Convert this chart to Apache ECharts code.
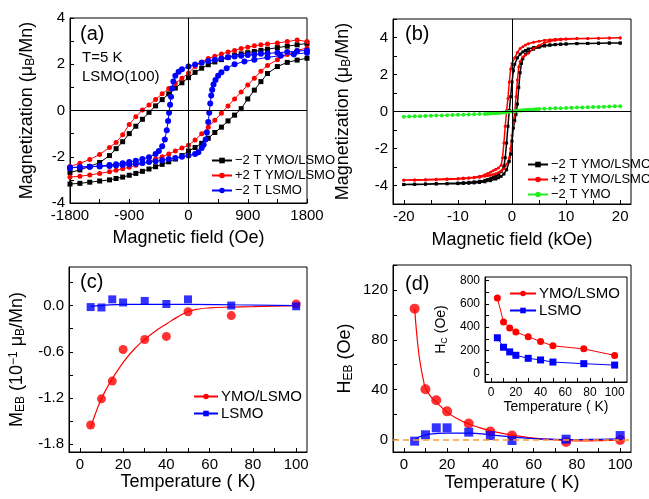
<!DOCTYPE html>
<html>
<head>
<meta charset="utf-8">
<script src="https://cdn.jsdelivr.net/npm/echarts@6/dist/echarts.min.js"></script>
<style>html,body{margin:0;padding:0;background:#fff}#main{width:649px;height:499px}</style>
</head>
<body>
<div id="main"></div>
<script>
// ---- (a) low-field loops, [H (Oe), M (muB/Mn)] ----
const aBlackDown = [[1800,2.9],[1650,2.84],[1500,2.78],[1350,2.72],[1200,2.65],[1100,2.6],[1000,2.55],[900,2.5],[800,2.45],[700,2.39],[600,2.3],[500,2.2],[400,2.1],[300,1.98],[200,1.83],[100,1.65],[0,1.42],[-100,1.2],[-200,0.97],[-300,0.72],[-400,0.47],[-500,0.2],[-600,-0.08],[-700,-0.38],[-800,-0.68],[-900,-1.0],[-1000,-1.35],[-1100,-1.65],[-1200,-1.95],[-1350,-2.25],[-1500,-2.42],[-1650,-2.57],[-1800,-2.68]]
const aBlackUp = [[-1800,-3.18],[-1650,-3.15],[-1500,-3.1],[-1350,-3.05],[-1200,-3.0],[-1100,-2.94],[-1000,-2.88],[-900,-2.8],[-800,-2.72],[-700,-2.63],[-600,-2.53],[-500,-2.43],[-400,-2.33],[-300,-2.22],[-200,-2.1],[-100,-1.95],[0,-1.75],[100,-1.6],[200,-1.42],[300,-1.2],[400,-0.95],[500,-0.72],[600,-0.45],[700,-0.2],[800,0.08],[900,0.5],[1000,0.88],[1100,1.25],[1200,1.6],[1350,1.9],[1500,2.08],[1650,2.18],[1800,2.26]]
const aRedDown = [[1800,2.98],[1650,3.05],[1500,2.98],[1350,2.92],[1200,2.88],[1100,2.84],[1000,2.8],[900,2.74],[800,2.68],[700,2.6],[600,2.53],[500,2.44],[400,2.35],[300,2.25],[200,2.1],[100,1.9],[0,1.62],[-100,1.4],[-200,1.17],[-300,0.95],[-400,0.72],[-500,0.48],[-600,0.24],[-700,0.02],[-800,-0.27],[-900,-0.6],[-1000,-1.05],[-1100,-1.38],[-1200,-1.6],[-1350,-1.9],[-1500,-2.12],[-1650,-2.28],[-1800,-2.42]]
const aRedUp = [[-1800,-2.88],[-1650,-2.84],[-1500,-2.79],[-1350,-2.72],[-1200,-2.65],[-1100,-2.58],[-1000,-2.52],[-900,-2.45],[-800,-2.37],[-700,-2.29],[-600,-2.2],[-500,-2.1],[-400,-2.0],[-300,-1.88],[-200,-1.75],[-100,-1.62],[0,-1.5],[100,-1.28],[200,-1.0],[300,-0.72],[400,-0.42],[500,-0.12],[600,0.2],[700,0.5],[800,0.8],[900,1.1],[1000,1.4],[1100,1.7],[1200,1.95],[1350,2.2],[1500,2.42],[1650,2.6],[1800,2.7]]
const aBlueDown = [[1800,2.6],[1650,2.57],[1500,2.53],[1350,2.5],[1200,2.47],[1100,2.45],[1000,2.42],[900,2.4],[800,2.37],[700,2.34],[600,2.3],[500,2.25],[400,2.2],[300,2.14],[200,2.07],[100,1.99],[0,1.9],[-100,1.78],[-150,1.68],[-200,1.5],[-230,1.25],[-250,0.95],[-265,0.6],[-280,0.25],[-295,-0.1],[-310,-0.45],[-330,-0.85],[-360,-1.25],[-400,-1.55],[-450,-1.75],[-500,-1.88],[-600,-2.02],[-700,-2.1],[-800,-2.17],[-900,-2.23],[-1000,-2.28],[-1100,-2.32],[-1200,-2.36],[-1350,-2.4],[-1500,-2.43],[-1650,-2.45],[-1800,-2.47]]
const aBlueUp = [[-1800,-2.5],[-1650,-2.45],[-1500,-2.43],[-1350,-2.42],[-1200,-2.4],[-1100,-2.38],[-1000,-2.36],[-900,-2.33],[-800,-2.3],[-700,-2.27],[-600,-2.23],[-500,-2.19],[-400,-2.15],[-300,-2.1],[-200,-2.05],[-100,-2.0],[0,-1.95],[100,-1.88],[150,-1.8],[200,-1.62],[230,-1.48],[260,-1.25],[280,-0.95],[300,-0.5],[315,-0.1],[330,0.3],[345,0.65],[360,0.9],[380,1.12],[410,1.32],[450,1.5],[500,1.65],[580,1.83],[700,2.0],[850,2.12],[1000,2.2],[1200,2.3],[1400,2.37],[1600,2.43],[1800,2.5]]

// ---- (b) high-field loops, [H (kOe), M] ----
const bBlackDown = [[20,3.7],[18,3.7],[16,3.69],[14,3.68],[12,3.67],[10,3.65],[9,3.64],[8,3.62],[7,3.6],[6,3.57],[5,3.52],[4,3.46],[3,3.38],[2.5,3.3],[2,3.22],[1.5,3.1],[1,2.9],[0.5,2.55],[0.25,2.2],[0,1.6],[-0.25,0.8],[-0.5,0.05],[-0.75,-0.8],[-1,-1.7],[-1.25,-2.5],[-1.5,-2.95],[-2,-3.25],[-2.5,-3.4],[-3,-3.5],[-3.5,-3.57],[-4,-3.63],[-4.5,-3.68],[-5,-3.72],[-6,-3.77],[-7,-3.8],[-8,-3.83],[-9,-3.85],[-10,-3.87],[-12,-3.89],[-14,-3.9],[-16,-3.92],[-18,-3.93],[-20,-3.94]]
const bBlackUp = [[-20,-3.95],[-18,-3.94],[-16,-3.93],[-14,-3.92],[-12,-3.91],[-10,-3.9],[-9,-3.89],[-8,-3.88],[-7,-3.86],[-6,-3.84],[-5,-3.8],[-4,-3.74],[-3,-3.65],[-2.5,-3.58],[-2,-3.5],[-1.5,-3.38],[-1,-3.15],[-0.5,-2.7],[-0.25,-2.3],[0,-1.6],[0.25,-0.9],[0.5,-0.5],[0.75,-0.15],[1,0.4],[1.25,1.3],[1.5,2.1],[1.75,2.6],[2,2.85],[2.5,3.1],[3,3.22],[4,3.37],[5,3.47],[6,3.54],[7,3.58],[8,3.61],[9,3.63],[10,3.65],[12,3.67],[14,3.68],[16,3.69],[18,3.7],[20,3.7]]
const bRedDown = [[20,3.97],[18,3.97],[16,3.96],[14,3.95],[12,3.94],[10,3.93],[9,3.92],[8,3.9],[7,3.88],[6,3.85],[5,3.8],[4,3.74],[3,3.66],[2.5,3.6],[2,3.5],[1.5,3.4],[1,3.2],[0.5,2.9],[0,2.6],[-0.25,2.3],[-0.5,1.6],[-0.75,0.7],[-1,0.05],[-1.25,-0.8],[-1.5,-1.7],[-1.75,-2.5],[-2,-2.9],[-2.5,-3.05],[-3,-3.12],[-3.5,-3.2],[-4,-3.28],[-4.5,-3.35],[-5,-3.42],[-6,-3.5],[-7,-3.55],[-8,-3.58],[-9,-3.6],[-10,-3.62],[-12,-3.64],[-14,-3.66],[-16,-3.68],[-18,-3.69],[-20,-3.7]]
const bRedUp = [[-20,-3.72],[-18,-3.71],[-16,-3.7],[-14,-3.69],[-12,-3.67],[-10,-3.65],[-9,-3.63],[-8,-3.61],[-7,-3.58],[-6,-3.55],[-5,-3.5],[-4.5,-3.47],[-4,-3.44],[-3.5,-3.4],[-3,-3.36],[-2.5,-3.3],[-2,-3.22],[-1.5,-3.1],[-1,-2.85],[-0.5,-2.5],[-0.25,-2.0],[0,-1.3],[0.25,-0.6],[0.5,-0.05],[0.75,0.8],[1,1.7],[1.25,2.4],[1.5,2.7],[2,2.95],[2.5,3.05],[3,3.15],[4,3.4],[5,3.57],[6,3.72],[7,3.8],[8,3.85],[9,3.88],[10,3.9],[12,3.93],[14,3.95],[16,3.96],[18,3.97],[20,3.98]]
const bGreen = [[-20,-0.28],[-19,-0.27],[-18,-0.26],[-17,-0.25],[-16,-0.24],[-15,-0.23],[-14,-0.22],[-13,-0.21],[-12,-0.2],[-11,-0.19],[-10,-0.18],[-9,-0.17],[-8,-0.16],[-7,-0.15],[-6,-0.14],[-5,-0.13],[-4.5,-0.12],[-4,-0.11],[-3.5,-0.1],[-3,-0.09],[-2.5,-0.08],[-2,-0.07],[-1.5,-0.06],[-1,-0.04],[-0.5,-0.02],[0,0],[0.5,0.02],[1,0.04],[1.5,0.06],[2,0.07],[2.5,0.08],[3,0.09],[3.5,0.1],[4,0.11],[4.5,0.12],[5,0.13],[6,0.15],[7,0.16],[8,0.17],[9,0.18],[10,0.19],[11,0.2],[12,0.21],[13,0.22],[14,0.23],[15,0.24],[16,0.25],[17,0.26],[18,0.27],[19,0.28],[20,0.29]]

// ---- (c) M_EB vs T ----
const cTemp = [5, 10, 15, 20, 30, 40, 50, 70, 100]
const cYmo = [-1.55, -1.21, -0.98, -0.57, -0.44, -0.40, -0.08, -0.13, 0.02]
const cLsmo = [-0.02, -0.025, 0.08, 0.04, 0.06, 0.02, 0.08, 0.0, -0.01]
const cFitTemp = [5, 7.5, 10, 12.5, 15, 20, 25, 30, 35, 40, 45, 50, 55, 60, 70, 80, 100]
const cYmoFit = [-1.58, -1.38, -1.21, -1.07, -0.95, -0.74, -0.57, -0.44, -0.33, -0.24, -0.15, -0.08, -0.045, -0.03, -0.02, -0.015, 0.0]
const cLsmoFitTemp = [5, 10, 20, 50, 70, 100]
const cLsmoFit = [-0.01, 0.0, 0.015, 0.015, 0.01, 0.0]

// ---- (d) H_EB vs T ----
const dTemp = [5, 10, 15, 20, 30, 40, 50, 75, 100]
const dYmo = [105, 40.3, 31.5, 22.6, 12.9, 6.5, 3.2, -1.9, -0.3]
const dLsmo = [-1.3, 3.8, 9.4, 9.4, 5.9, 3.2, -0.8, 0.3, 3.2]
const dYmoFitTemp = [5, 6, 7, 8, 9, 10, 12, 15, 20, 25, 30, 35, 40, 50, 60, 70, 80, 90, 100]
const dYmoFit = [105, 84, 68, 57, 48, 41.5, 35.5, 30, 22, 16.5, 12.5, 9.5, 7, 3.5, 1.2, -0.3, -1.0, -0.8, -0.2]
const dLsmoFitTemp = [5, 7, 10, 15, 20, 30, 40, 50, 60, 70, 80, 90, 100]
const dLsmoFit = [-0.5, 2, 3.8, 4.8, 5.2, 5.2, 3.8, 2, 0.8, 0.2, 0, 0.2, 0.6]

// ---- inset H_C vs T ----
const hTemp = [5, 10, 15, 20, 30, 40, 50, 75, 100]
const hYmo = [650, 445, 393, 358, 318, 277, 240, 214, 158]
const hLsmo = [309, 228, 188, 159, 133, 119, 101, 87, 75]

// ---- ticks / labels ----
const aXTicks = [-1800, -1350, -900, -450, 0, 450, 900, 1350, 1800]
const aXLabels = [-1800, -900, 0, 900, 1800]
const aYTicks = [-4, -3, -2, -1, 0, 1, 2, 3, 4]
const aYLabels = [-4, -2, 0, 2, 4]
const bXTicks = [-20, -15, -10, -5, 0, 5, 10, 15, 20]
const bXLabels = [-20, -10, 0, 10, 20]
const bYTicks = [-5, -4, -3, -2, -1, 0, 1, 2, 3, 4, 5]
const bYLabels = [-4, -2, 0, 2, 4]
const tTicks = [0, 10, 20, 30, 40, 50, 60, 70, 80, 90, 100]
const tLabels = [0, 20, 40, 60, 80, 100]
const cYTicks = [-1.8, -1.5, -1.2, -0.9, -0.6, -0.3, 0, 0.3]
const cYLabels = [-1.8, -1.2, -0.6, 0]
const dYTicks = [0, 20, 40, 60, 80, 100, 120, 140]
const dYLabels = [0, 40, 80, 120]
const hYTicks = [0, 100, 200, 300, 400, 500, 600, 700, 800]
const hYLabels = [0, 200, 400, 600, 800]

const legendText = {
  a1: '\u22122 T YMO/LSMO', a2: '+2 T YMO/LSMO', a3: '\u22122 T LSMO',
  b1: '\u22122 T YMO/LSMO', b2: '+2 T YMO/LSMO', b3: '\u22122 T YMO',
  c1: 'YMO/LSMO', c2: 'LSMO', e1: 'YMO/LSMO', e2: 'LSMO'
}

const FONT = 'Liberation Sans, Arial, sans-serif'
const RED = '#ff0000', BLUE = '#0000ff', BLACK = '#000000', GREEN = '#22ee22'

function zip(xs, ys) { return xs.map((x, i) => [x, ys[i]]) }

function axis(grid, min, max, ticks, labels, name, gap, fs, lfs, fmt) {
  return {
    type: 'value', gridIndex: grid, min: min, max: max,
    name: name, nameLocation: 'middle', nameGap: gap,
    nameTextStyle: {
      fontFamily: FONT, fontSize: fs, color: '#000',
      rich: {
        s: { fontFamily: FONT, fontSize: Math.round(fs * 0.65), color: '#000', verticalAlign: 'bottom', padding: [7, 0, 0, 0] },
        p: { fontFamily: FONT, fontSize: Math.round(fs * 0.65), color: '#000', verticalAlign: 'top', padding: [0, 0, 7, 0] }
      }
    },
    axisLine: { show: true, onZero: false, lineStyle: { color: '#000', width: 1 } },
    axisTick: { show: true, inside: true, length: 4, customValues: ticks, lineStyle: { color: '#000' } },
    axisLabel: { customValues: labels, fontFamily: FONT, fontSize: lfs, color: '#000', margin: 5, formatter: fmt || (v => String(v)) },
    splitLine: { show: false }
  }
}

function ser(name, data, gi, color, symbol, size, lw, extra) {
  return Object.assign({
    name: name, type: 'line', xAxisIndex: gi, yAxisIndex: gi, data: data,
    symbol: symbol, symbolSize: size, showSymbol: symbol !== 'none',
    lineStyle: { color: color, width: lw }, itemStyle: { color: color },
    emphasis: { disabled: true }, animation: false, z: 3
  }, extra || {})
}

function zeroLines(gi) {
  return {
    type: 'line', xAxisIndex: gi, yAxisIndex: gi, data: [], z: 1, animation: false,
    markLine: { silent: true, symbol: 'none', label: { show: false }, animation: false,
      lineStyle: { color: '#000', type: 'solid', width: 1 },
      data: [{ xAxis: 0 }, { yAxis: 0 }] }
  }
}

function legend(names, left, top, fs, iw) {
  return {
    data: names, orient: 'vertical', left: left, top: top, padding: 0,
    itemWidth: iw, itemHeight: 7, itemGap: 2, selectedMode: false,
    textStyle: { fontFamily: FONT, fontSize: fs, color: '#000', padding: [0, 0, 0, -2] },
    formatter: n => legendText[n]
  }
}

const chart = echarts.init(document.getElementById('main'))
chart.setOption({
  backgroundColor: '#fff',
  animation: false,
  textStyle: { fontFamily: FONT },
  grid: [
    { left: 70, top: 18, width: 237, height: 185 },
    { left: 393, top: 19, width: 238, height: 185 },
    { left: 69, top: 267, width: 238, height: 185 },
    { left: 393, top: 265, width: 238, height: 187 },
    { left: 485, top: 277, width: 142, height: 105 }
  ].map(g => Object.assign(g, { show: true, borderColor: '#000', borderWidth: 1, backgroundColor: 'transparent' })),
  xAxis: [
    axis(0, -1800, 1800, aXTicks, aXLabels, 'Magnetic field (Oe)', 26, 18, 15),
    axis(1, -22, 22, bXTicks, bXLabels, 'Magnetic field (kOe)', 27, 18, 15),
    axis(2, -5, 105, tTicks, tLabels, 'Temperature ( K)', 20, 18, 15),
    axis(3, -5, 105, tTicks, tLabels, 'Temperature ( K)', 22, 18, 15),
    axis(4, -5, 110, tTicks, tLabels, 'Temperature ( K)', 17, 14, 12)
  ],
  yAxis: [
    axis(0, -4, 4, aYTicks, aYLabels, 'Magnetization (\u03bc{s|B}/Mn)', 33, 18, 15),
    axis(1, -5, 5, bYTicks, bYLabels, 'Magnetization (\u03bc{s|B}/Mn)', 40, 18, 15),
    axis(2, -1.9, 0.5, cYTicks, cYLabels, 'M{s|EB} (10{p|\u22121} \u03bc{s|B}/Mn)', 42, 18, 15, v => v.toFixed(1)),
    axis(3, -10, 140, dYTicks, dYLabels, 'H{s|EB} (Oe)', 38, 18, 15),
    axis(4, -70, 830, hYTicks, hYLabels, 'H{s|C} (Oe)', 36, 14, 12)
  ],
  legend: [
    legend(['a1', 'a2', 'a3'], 211, 154, 13, 20),
    legend(['b1', 'b2', 'b3'], 527, 158, 13, 20),
    legend(['c1', 'c2'], 193, 389, 15, 24),
    legend(['e1', 'e2'], 509, 286, 15, 26)
  ],
  graphic: [
    { type: 'text', left: 80, top: 24, style: { text: '(a)', font: '20px ' + FONT, fill: '#000' } },
    { type: 'text', left: 82, top: 50, style: { text: 'T=5 K', font: '15px ' + FONT, fill: '#000' } },
    { type: 'text', left: 82, top: 69, style: { text: 'LSMO(100)', font: '15px ' + FONT, fill: '#000' } },
    { type: 'text', left: 405, top: 24, style: { text: '(b)', font: '20px ' + FONT, fill: '#000' } },
    { type: 'text', left: 80, top: 272, style: { text: '(c)', font: '20px ' + FONT, fill: '#000' } },
    { type: 'text', left: 405, top: 274, style: { text: '(d)', font: '20px ' + FONT, fill: '#000' } }
  ],
  series: [
    zeroLines(0),
    ser('a1', aBlackDown.concat(aBlackUp), 0, BLACK, 'rect', 5, 1),
    ser('a2', aRedDown.concat(aRedUp), 0, RED, 'circle', 5, 1),
    ser('a3', aBlueDown.concat(aBlueUp), 0, BLUE, 'circle', 6, 1),

    zeroLines(1),
    ser('b1', bBlackDown.concat(bBlackUp), 1, BLACK, 'rect', 3, 1.5),
    ser('b2', bRedDown.concat(bRedUp), 1, RED, 'circle', 3, 1.5),
    ser('b3', bGreen, 1, GREEN, 'circle', 4, 1),

    ser('c1', [], 2, RED, 'circle', 9, 1.2),
    ser('c2', [], 2, BLUE, 'rect', 8, 1.2),
    ser('cfit1', zip(cFitTemp, cYmoFit), 2, RED, 'none', 0, 1.2, { smooth: true }),
    ser('cfit2', zip(cLsmoFitTemp, cLsmoFit), 2, BLUE, 'none', 0, 1.2, { smooth: true }),
    ser('cpts1', zip(cTemp, cYmo), 2, RED, 'circle', 9, 0, { type: 'scatter' }),
    ser('cpts2', zip(cTemp, cLsmo), 2, BLUE, 'rect', 8, 0, { type: 'scatter' }),

    {
      type: 'line', xAxisIndex: 3, yAxisIndex: 3, data: [], z: 1, animation: false,
      markLine: { silent: true, symbol: 'none', label: { show: false }, animation: false,
        lineStyle: { color: '#ff9a2e', type: [6, 4], width: 1.5 }, data: [{ yAxis: 0 }] }
    },
    ser('dfit1', zip(dYmoFitTemp, dYmoFit), 3, RED, 'none', 0, 1.2, { smooth: true }),
    ser('dfit2', zip(dLsmoFitTemp, dLsmoFit), 3, BLUE, 'none', 0, 1.2, { smooth: true }),
    ser('dpts1', zip(dTemp, dYmo), 3, RED, 'circle', 10, 0, { type: 'scatter' }),
    ser('dpts2', zip(dTemp, dLsmo), 3, BLUE, 'rect', 9, 0, { type: 'scatter' }),

    ser('e1', zip(hTemp, hYmo), 4, RED, 'circle', 7, 1),
    ser('e2', zip(hTemp, hLsmo), 4, BLUE, 'rect', 7, 1)
  ]
})
</script>
</body>
</html>
